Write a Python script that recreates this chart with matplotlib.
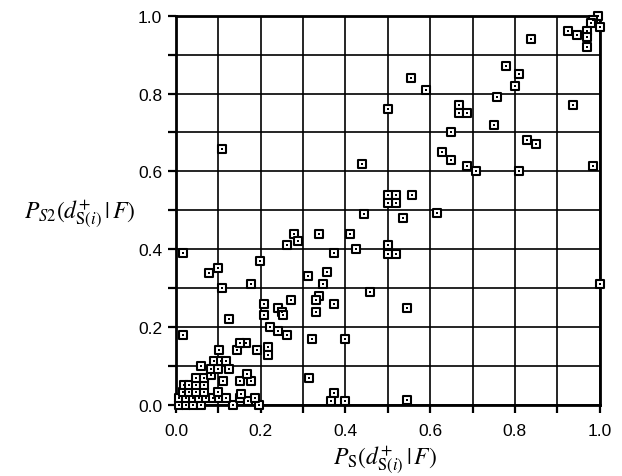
import matplotlib
matplotlib.use("Agg")
import matplotlib.pyplot as plt
import numpy as np

# P_S values (x) and P_S2 values (y)
x_upper = [0.996, 0.985, 0.98, 1.0, 0.926, 0.946, 0.971, 0.971, 0.971, 0.839,
           0.78, 0.81, 0.80, 0.757, 0.555, 0.59, 0.50,
           0.668, 0.668, 0.686, 0.648, 0.75, 0.938,
           0.627, 0.648, 0.828, 0.85, 0.686, 0.709, 0.81, 0.984,
           0.109, 0.44,
           0.50, 0.52, 0.52, 0.50, 0.557,
           0.443, 0.537, 0.617]
y_upper = [1.0, 0.99, 0.98, 0.972, 0.96, 0.95, 0.96, 0.945, 0.92, 0.94,
           0.87, 0.85, 0.82, 0.79, 0.84, 0.81, 0.76,
           0.77, 0.75, 0.75, 0.70, 0.72, 0.77,
           0.65, 0.63, 0.68, 0.67, 0.615, 0.60, 0.60, 0.615,
           0.658, 0.62,
           0.54, 0.54, 0.52, 0.52, 0.54,
           0.49, 0.48, 0.493]

x_mid = [0.279, 0.289, 0.261, 0.338, 0.41, 0.426, 0.374, 0.50, 0.50, 0.519,
         0.017, 0.077, 0.10, 0.109, 0.198, 0.178,
         0.312, 0.356, 0.346, 0.338, 0.33, 0.331, 0.374, 0.459, 0.546, 1.0,
         0.208, 0.208, 0.24, 0.25, 0.252, 0.271,
         0.126, 0.017, 0.223, 0.241, 0.261, 0.322, 0.398, 0.313,
         0.217, 0.217,
         0.374, 0.366, 0.40, 0.546]
y_mid = [0.44, 0.42, 0.41, 0.44, 0.44, 0.40, 0.39, 0.41, 0.389, 0.389,
         0.39, 0.34, 0.353, 0.30, 0.37, 0.31,
         0.33, 0.342, 0.311, 0.28, 0.27, 0.24, 0.26, 0.29, 0.25, 0.31,
         0.26, 0.23, 0.25, 0.24, 0.23, 0.27,
         0.22, 0.18, 0.20, 0.19, 0.18, 0.17, 0.17, 0.07,
         0.148, 0.127,
         0.03, 0.01, 0.01, 0.012]

x_low = [0.008, 0.024, 0.039, 0.059, 0.134, 0.197,
         0.008, 0.024, 0.039, 0.055, 0.071, 0.087, 0.102, 0.118, 0.15, 0.17, 0.186,
         0.016, 0.031, 0.047, 0.067, 0.098, 0.154,
         0.02, 0.031, 0.047, 0.067, 0.11, 0.15, 0.177,
         0.047, 0.067, 0.083, 0.168,
         0.059, 0.083, 0.098, 0.126,
         0.09, 0.106, 0.118,
         0.101, 0.143, 0.166, 0.15, 0.19]
y_low = [0.0, 0.0, 0.0, 0.0, 0.0, 0.0,
         0.017, 0.017, 0.017, 0.017, 0.017, 0.017, 0.017, 0.017, 0.017, 0.01, 0.018,
         0.034, 0.034, 0.034, 0.034, 0.034, 0.027,
         0.05, 0.05, 0.05, 0.05, 0.061, 0.061, 0.061,
         0.07, 0.07, 0.078, 0.08,
         0.1, 0.092, 0.092, 0.092,
         0.114, 0.114, 0.114,
         0.14, 0.14, 0.16, 0.16, 0.14]

x_vals = np.array(x_upper + x_mid + x_low)
y_vals = np.array(y_upper + y_mid + y_low)

tick_vals = [0.0, 0.2, 0.4, 0.6, 0.8, 1.0]
tick_labels = ["0.0", "0.2", "0.4", "0.6", "0.8", "1.0"]

plt.rcParams['font.family'] = ['Liberation Sans', 'DejaVu Sans']
plt.rcParams['mathtext.fontset'] = 'stix'

fig = plt.figure(figsize=(6.22, 4.77), dpi=100)
ax = fig.add_axes([0.283, 0.149, 0.681, 0.816])

ax.set_xlim(0, 1)
ax.set_ylim(0, 1)

ax.set_xticks(tick_vals)
ax.set_xticklabels(tick_labels)
ax.set_yticks(tick_vals)
ax.set_yticklabels(tick_labels)
ax.set_xticks(np.arange(0.1, 1.0, 0.2), minor=True)
ax.set_yticks(np.arange(0.1, 1.0, 0.2), minor=True)

ax.grid(True, which='both', color='black', linewidth=1.2, linestyle='-')
ax.set_axisbelow(True)
ax.tick_params(which='both', direction='out', length=6, width=1.6, color='black')
ax.tick_params(axis='x', which='major', labelsize=12.5, pad=7)
ax.tick_params(axis='y', which='major', labelsize=12.5, pad=4)
for s in ax.spines.values():
    s.set_linewidth(2.0)
    s.set_color('black')

ax.scatter(x_vals, y_vals, marker='s', s=38, facecolors='white',
           edgecolors='black', linewidths=1.5, clip_on=False, zorder=3)
ax.scatter(x_vals, y_vals, marker='s', s=2.5, color='black',
           linewidths=0, clip_on=False, zorder=4)

fig.text(0.619, 0.035, r'$P_{\mathrm{S}}(d^{+}_{\mathrm{S}(i)}\,|\,F)$',
         ha='center', va='center', fontsize=17)
fig.text(0.128, 0.552, r'$P_{S2}(d^{+}_{\mathrm{S}(i)}\,|\,F)$',
         ha='center', va='center', fontsize=17)

fig.savefig("out.png", dpi=100)
